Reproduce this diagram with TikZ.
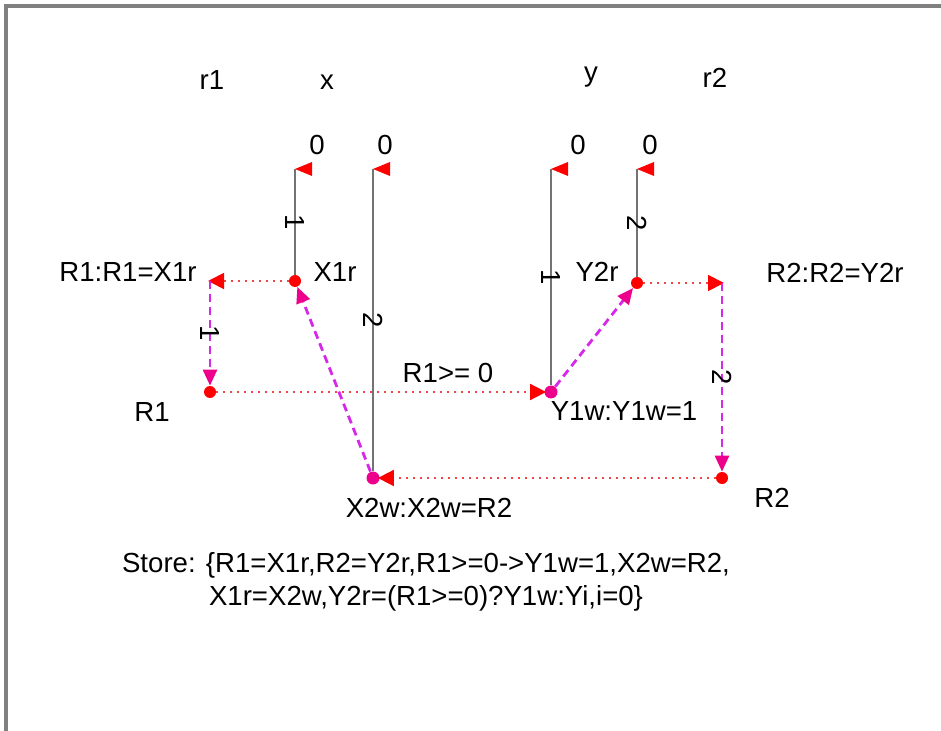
\documentclass[tikz,border=0pt]{standalone}
\usepackage{fontspec}
\setmainfont{Liberation Sans}
\usetikzlibrary{arrows.meta}
\definecolor{wmag}{RGB}{214,40,232}
\definecolor{dotred}{RGB}{236,70,70}

\begin{document}
\begin{tikzpicture}[x=0.5pt, y=-0.5pt,
    every node/.style={font=\fontsize{13.8}{16.5}\selectfont, inner sep=0pt},
    rdot/.style={circle, fill=red, minimum size=6pt},
    mdot/.style={circle, fill=magenta, minimum size=6.5pt},
    loc/.style={draw=gray!90!black, line width=1pt},
    rf/.style={dotred, line width=0.9pt, dash pattern=on 0.9pt off 2.6pt,
        -{Triangle[length=8pt,width=8pt,color=red]}, shorten >=-1pt},
    po/.style={wmag, line width=1.4pt, dash pattern=on 4pt off 2.5pt,
        -{Triangle[length=8pt,width=7pt,color=magenta]}},
    tick/.style={midway, rotate=-90, black}]
    \useasboundingbox (0,0) rectangle (941,731);
    \draw[gray, line width=1.6pt] (6,731) -- (6,6) -- (941,6);

    % columns
    \node (hr1) at (212,80) {r1};
    \node (hx)  at (327,82) {x};
    \node (hy)  at (591,77) {y};
    \node (hr2) at (715,78) {r2};

    % events
    \node[rdot] (X1r) at (295,281) {};
    \node[mdot] (X2w) at (373,478) {};
    \node[mdot] (Y1w) at (551,392) {};
    \node[rdot] (Y2r) at (637,283) {};
    \node[rdot] (R1)  at (210,392) {};
    \node[rdot] (R2)  at (722,478) {};
    \coordinate (R1r) at (210,281);
    \coordinate (R2r) at (722,283);

    \node at (335,272) {X1r};
    \node at (597,272) {Y2r};
    \node at (128,272) {R1:R1=X1r};
    \node at (835,273) {R2:R2=Y2r};
    \node at (152,412) {R1};
    \node at (772,498) {R2};
    \node at (624,411) {Y1w:Y1w=1};
    \node at (429,508) {X2w:X2w=R2};
    \node (cond) at (448,373) {R1>= 0};

    % initial values
    \foreach \n/\px/\lx in {x1/295/317, x2/373/385, y/551/578, r2/637/650} {
        \coordinate (\n top) at (\px,169);
        \fill[red] (\n top) -- ++(17,-7) -- ++(0,14) -- cycle;
        \node at (\lx,145) {0};
    }

    % program order per location
    \draw[loc] (x1top) -- (X1r) node[tick] {1};
    \draw[loc] (x2top) -- (X2w) node[tick] {2};
    \draw[loc] (ytop) -- (Y1w) node[tick] {1};
    \draw[loc] (r2top) -- (Y2r) node[tick] {2};

    % reads from
    \draw[rf] (X1r) -- (R1r);
    \draw[rf] (Y2r) -- (R2r);
    \draw[rf] (R1) -- (Y1w);
    \draw[rf] (R2) -- (X2w);

    % dependencies
    \draw[po] (R1r) -- (R1) node[tick] {1};
    \draw[po] (R2r) -- (R2) node[tick] {2};
    \draw[po] (X2w) -- (X1r);
    \draw[po] (Y1w) -- (Y2r);

    \node[align=center] (store) at (426,582)
        {Store: \{R1=X1r,R2=Y2r,R1>=0->Y1w=1,X2w=R2,\\
         X1r=X2w,Y2r=(R1>=0)?Y1w:Yi,i=0\}};
\end{tikzpicture}
\end{document}
